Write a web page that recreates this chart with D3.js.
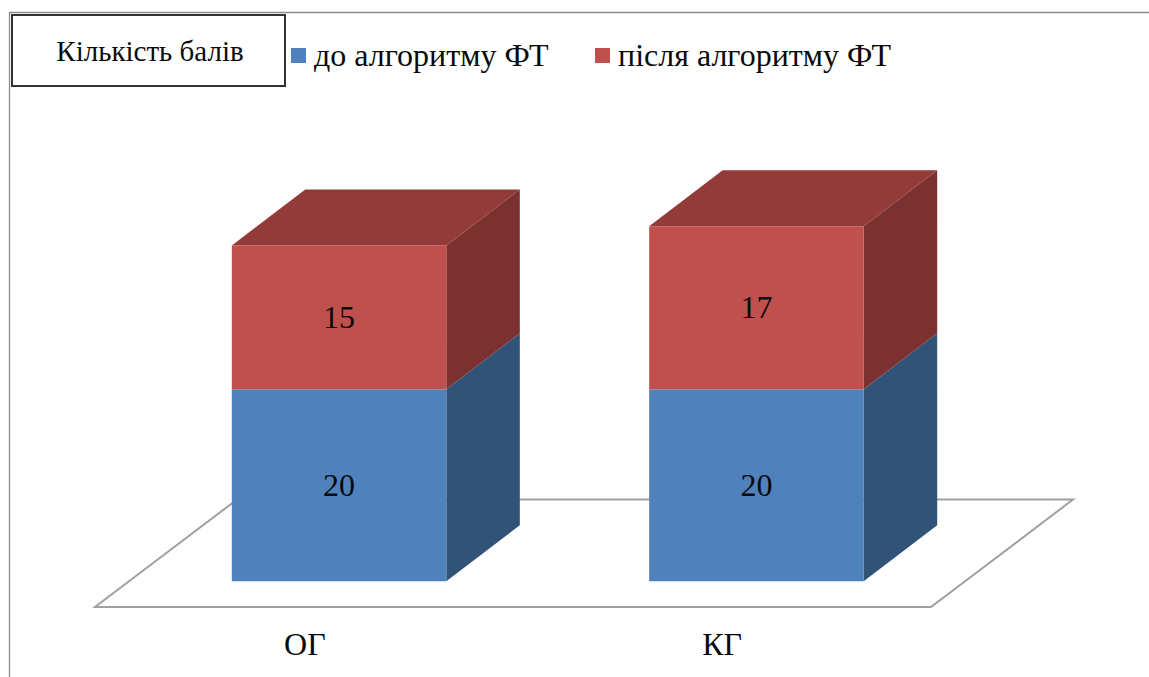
<!DOCTYPE html>
<html>
<head>
<meta charset="utf-8">
<script src="https://cdn.jsdelivr.net/npm/d3@7"></script>
<style>
  html, body { margin: 0; padding: 0; background: #fff; }
  svg { display: block; }
  text { font-family: "Liberation Serif", serif; fill: #0a0a0a; }
</style>
</head>
<body>
<svg width="1149" height="677"></svg>
<script>
const groups = ["ОГ", "КГ"];
const seriesNames = ["до алгоритму ФТ", "після алгоритму ФТ"];
const before = [20, 20];
const after = [15, 17];
const chartTitle = "Кількість балів";

const width = 1149;
const height = 677;
const floorLeft = 95, floorRight = 931, floorY = 607;
const floorDepth = {x: 142, y: 107.5};
const barDepth = {x: 73.5, y: 56};
// bars sit in the middle of the floor's depth
const shift = {x: (floorDepth.x - barDepth.x) / 2, y: (floorDepth.y - barDepth.y) / 2};

const faceColors = ["#4f81bd", "#c0504d"];
const sideColors = ["#325378", "#7a3130"];
const topColor = "#923b39";

const rows = groups.map((g, i) => ({group: g, [seriesNames[0]]: before[i], [seriesNames[1]]: after[i]}));
const stacked = d3.stack().keys(seriesNames)(rows);

const x = d3.scaleBand(groups, [floorLeft + 0.5, floorRight + 0.5]).paddingInner(0.486).paddingOuter(0.2445);
const y = d3.scaleLinear([0, 37], [floorY - shift.y, floorY - shift.y - 355]);

const svg = d3.select("svg");

// outer frame, only top and left are visible
svg.append("path")
    .attr("d", d3.line()([[9.5, height], [9.5, 12.5], [width, 12.5]]))
    .attr("fill", "none")
    .attr("stroke", "#8c8c8c")
    .attr("stroke-width", 1.3);

// floor
svg.append("path")
    .attr("d", d3.line()([
      [floorLeft, floorY],
      [floorRight, floorY],
      [floorRight + floorDepth.x, floorY - floorDepth.y],
      [floorLeft + floorDepth.x, floorY - floorDepth.y]
    ]) + "Z")
    .attr("fill", "#fff")
    .attr("stroke", "#a0a0a0")
    .attr("stroke-width", 2);

const barX = d => x(d.data.group) + shift.x;
const line = d3.line();

const layers = svg.append("g").selectAll("g")
  .data(stacked)
  .join("g");

// side faces
layers.selectAll(".side")
  .data(d => d)
  .join("path")
    .attr("class", "side")
    .attr("fill", function() { return sideColors[d3.select(this.parentNode).datum().index]; })
    .attr("d", d => {
      const xr = barX(d) + x.bandwidth();
      return line([
        [xr, y(d[0])],
        [xr + barDepth.x, y(d[0]) - barDepth.y],
        [xr + barDepth.x, y(d[1]) - barDepth.y],
        [xr, y(d[1])]
      ]) + "Z";
    });

// top faces, only the upper series shows one
layers.filter(d => d.index === seriesNames.length - 1).selectAll(".top")
  .data(d => d)
  .join("path")
    .attr("class", "top")
    .attr("fill", topColor)
    .attr("d", d => {
      const xl = barX(d);
      const xr = xl + x.bandwidth();
      return line([
        [xl, y(d[1])],
        [xr, y(d[1])],
        [xr + barDepth.x, y(d[1]) - barDepth.y],
        [xl + barDepth.x, y(d[1]) - barDepth.y]
      ]) + "Z";
    });

// front faces
layers.selectAll(".front")
  .data(d => d)
  .join("rect")
    .attr("class", "front")
    .attr("x", barX)
    .attr("y", d => y(d[1]))
    .attr("width", x.bandwidth())
    .attr("height", d => y(d[0]) - y(d[1]))
    .attr("fill", function() { return faceColors[d3.select(this.parentNode).datum().index]; });

// value labels
layers.selectAll(".value")
  .data(d => d)
  .join("text")
    .attr("class", "value")
    .attr("x", d => barX(d) + x.bandwidth() / 2)
    .attr("y", d => (y(d[0]) + y(d[1])) / 2)
    .attr("dy", "0.33em")
    .attr("text-anchor", "middle")
    .attr("font-size", 32)
    .text(d => d[1] - d[0]);

// category axis
const axis = svg.append("g")
    .attr("transform", `translate(0,${floorY})`)
    .call(d3.axisBottom(x).tickSize(0).tickPadding(25));
axis.select(".domain").remove();
axis.selectAll("text")
    .attr("font-family", "Liberation Serif")
    .attr("font-size", 32)
    .attr("fill", "#0a0a0a");

// title box
svg.append("rect")
    .attr("x", 12).attr("y", 15)
    .attr("width", 273).attr("height", 71)
    .attr("fill", "#fff")
    .attr("stroke", "#333")
    .attr("stroke-width", 2);
svg.append("text")
    .attr("x", 150).attr("y", 61)
    .attr("text-anchor", "middle")
    .attr("font-size", 29)
    .text(chartTitle);

// legend
const legendX = d3.scaleOrdinal(seriesNames, [291, 595]);
const legend = svg.append("g").selectAll("g")
  .data(seriesNames)
  .join("g")
    .attr("transform", d => `translate(${legendX(d)},48)`);
legend.append("rect")
    .attr("width", 15).attr("height", 15)
    .attr("fill", (d, i) => faceColors[i]);
legend.append("text")
    .attr("x", 23).attr("y", 18)
    .attr("font-size", 32)
    .text(d => d);
</script>
</body>
</html>
